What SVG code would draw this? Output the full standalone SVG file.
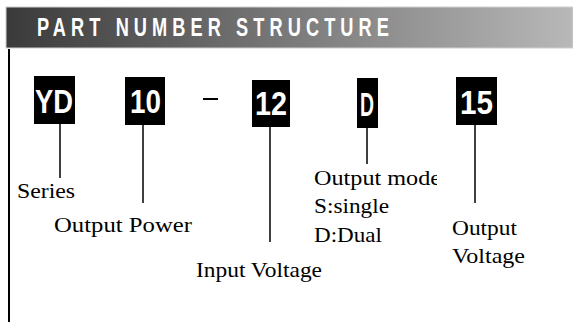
<svg xmlns="http://www.w3.org/2000/svg" width="573" height="322" viewBox="0 0 573 322">
<defs>
<linearGradient id="hdr" x1="0" y1="0" x2="1" y2="0">
<stop offset="0" stop-color="#3a3a3a"/>
<stop offset="0.5" stop-color="#7a7a7a"/>
<stop offset="1" stop-color="#b8b8b8"/>
</linearGradient>
<clipPath id="clipMode"><rect x="300" y="160" width="137" height="40"/></clipPath>
</defs>
<style>
.box{fill:#000}
.code{font-family:"Liberation Sans",Arial,sans-serif;font-weight:bold;font-size:34px;fill:#fff}
.lbl{font-family:"Liberation Serif","Times New Roman",serif;font-size:22px;fill:#000}
.conn{stroke:#000;stroke-width:1.5;fill:none}
</style>
<rect x="0" y="0" width="573" height="322" fill="#fff"/>
<g id="header">
<rect x="6" y="7" width="567" height="41" fill="url(#hdr)" stroke="#cfcfcf" stroke-width="1"/>
<text x="37" y="36" font-family="'Liberation Sans',Arial,sans-serif" font-weight="bold" font-size="25" letter-spacing="7" fill="#fff" textLength="357" lengthAdjust="spacingAndGlyphs">PART NUMBER STRUCTURE</text>
</g>
<line x1="9" y1="49" x2="9" y2="322" stroke="#000" stroke-width="2"/>
<g id="node-yd">
<rect class="box" x="34" y="76" width="41" height="48"/>
<text class="code" x="35" y="113" textLength="38" lengthAdjust="spacingAndGlyphs">YD</text>
</g>
<g id="node-10">
<rect class="box" x="125" y="77" width="40" height="48"/>
<text class="code" x="130" y="113" textLength="31" lengthAdjust="spacingAndGlyphs">10</text>
</g>
<g id="dash">
<rect x="203" y="98" width="15" height="2" fill="#000"/>
</g>
<g id="node-12">
<rect class="box" x="252" y="80" width="38" height="47"/>
<text class="code" x="255" y="115" textLength="32" lengthAdjust="spacingAndGlyphs">12</text>
</g>
<g id="node-d">
<rect class="box" x="357" y="78" width="21" height="50"/>
<text class="code" x="360" y="116" textLength="14" lengthAdjust="spacingAndGlyphs">D</text>
</g>
<g id="node-15">
<rect class="box" x="456" y="77" width="41" height="48"/>
<text class="code" x="460" y="114" textLength="33" lengthAdjust="spacingAndGlyphs">15</text>
</g>
<g id="connectors">
<line class="conn" x1="60" y1="124" x2="60" y2="178"/>
<line class="conn" x1="143" y1="125" x2="143" y2="203"/>
<line class="conn" x1="270" y1="127" x2="270" y2="242"/>
<line class="conn" x1="367" y1="128" x2="367" y2="164"/>
<line class="conn" x1="475" y1="125" x2="475" y2="203"/>
</g>
<g id="labels">
<text class="lbl" x="17" y="198" textLength="58" lengthAdjust="spacingAndGlyphs">Series</text>
<text class="lbl" x="54" y="232" textLength="138" lengthAdjust="spacingAndGlyphs">Output Power</text>
<text class="lbl" x="196" y="277" textLength="126" lengthAdjust="spacingAndGlyphs">Input Voltage</text>
<text class="lbl" x="314" y="185" textLength="127" lengthAdjust="spacingAndGlyphs" clip-path="url(#clipMode)">Output mode</text>
<text class="lbl" x="314" y="213" textLength="75" lengthAdjust="spacingAndGlyphs">S:single</text>
<text class="lbl" x="314" y="242" textLength="68" lengthAdjust="spacingAndGlyphs">D:Dual</text>
<text class="lbl" x="452" y="235" textLength="65" lengthAdjust="spacingAndGlyphs">Output</text>
<text class="lbl" x="452" y="263" textLength="73" lengthAdjust="spacingAndGlyphs">Voltage</text>
</g>
</svg>
